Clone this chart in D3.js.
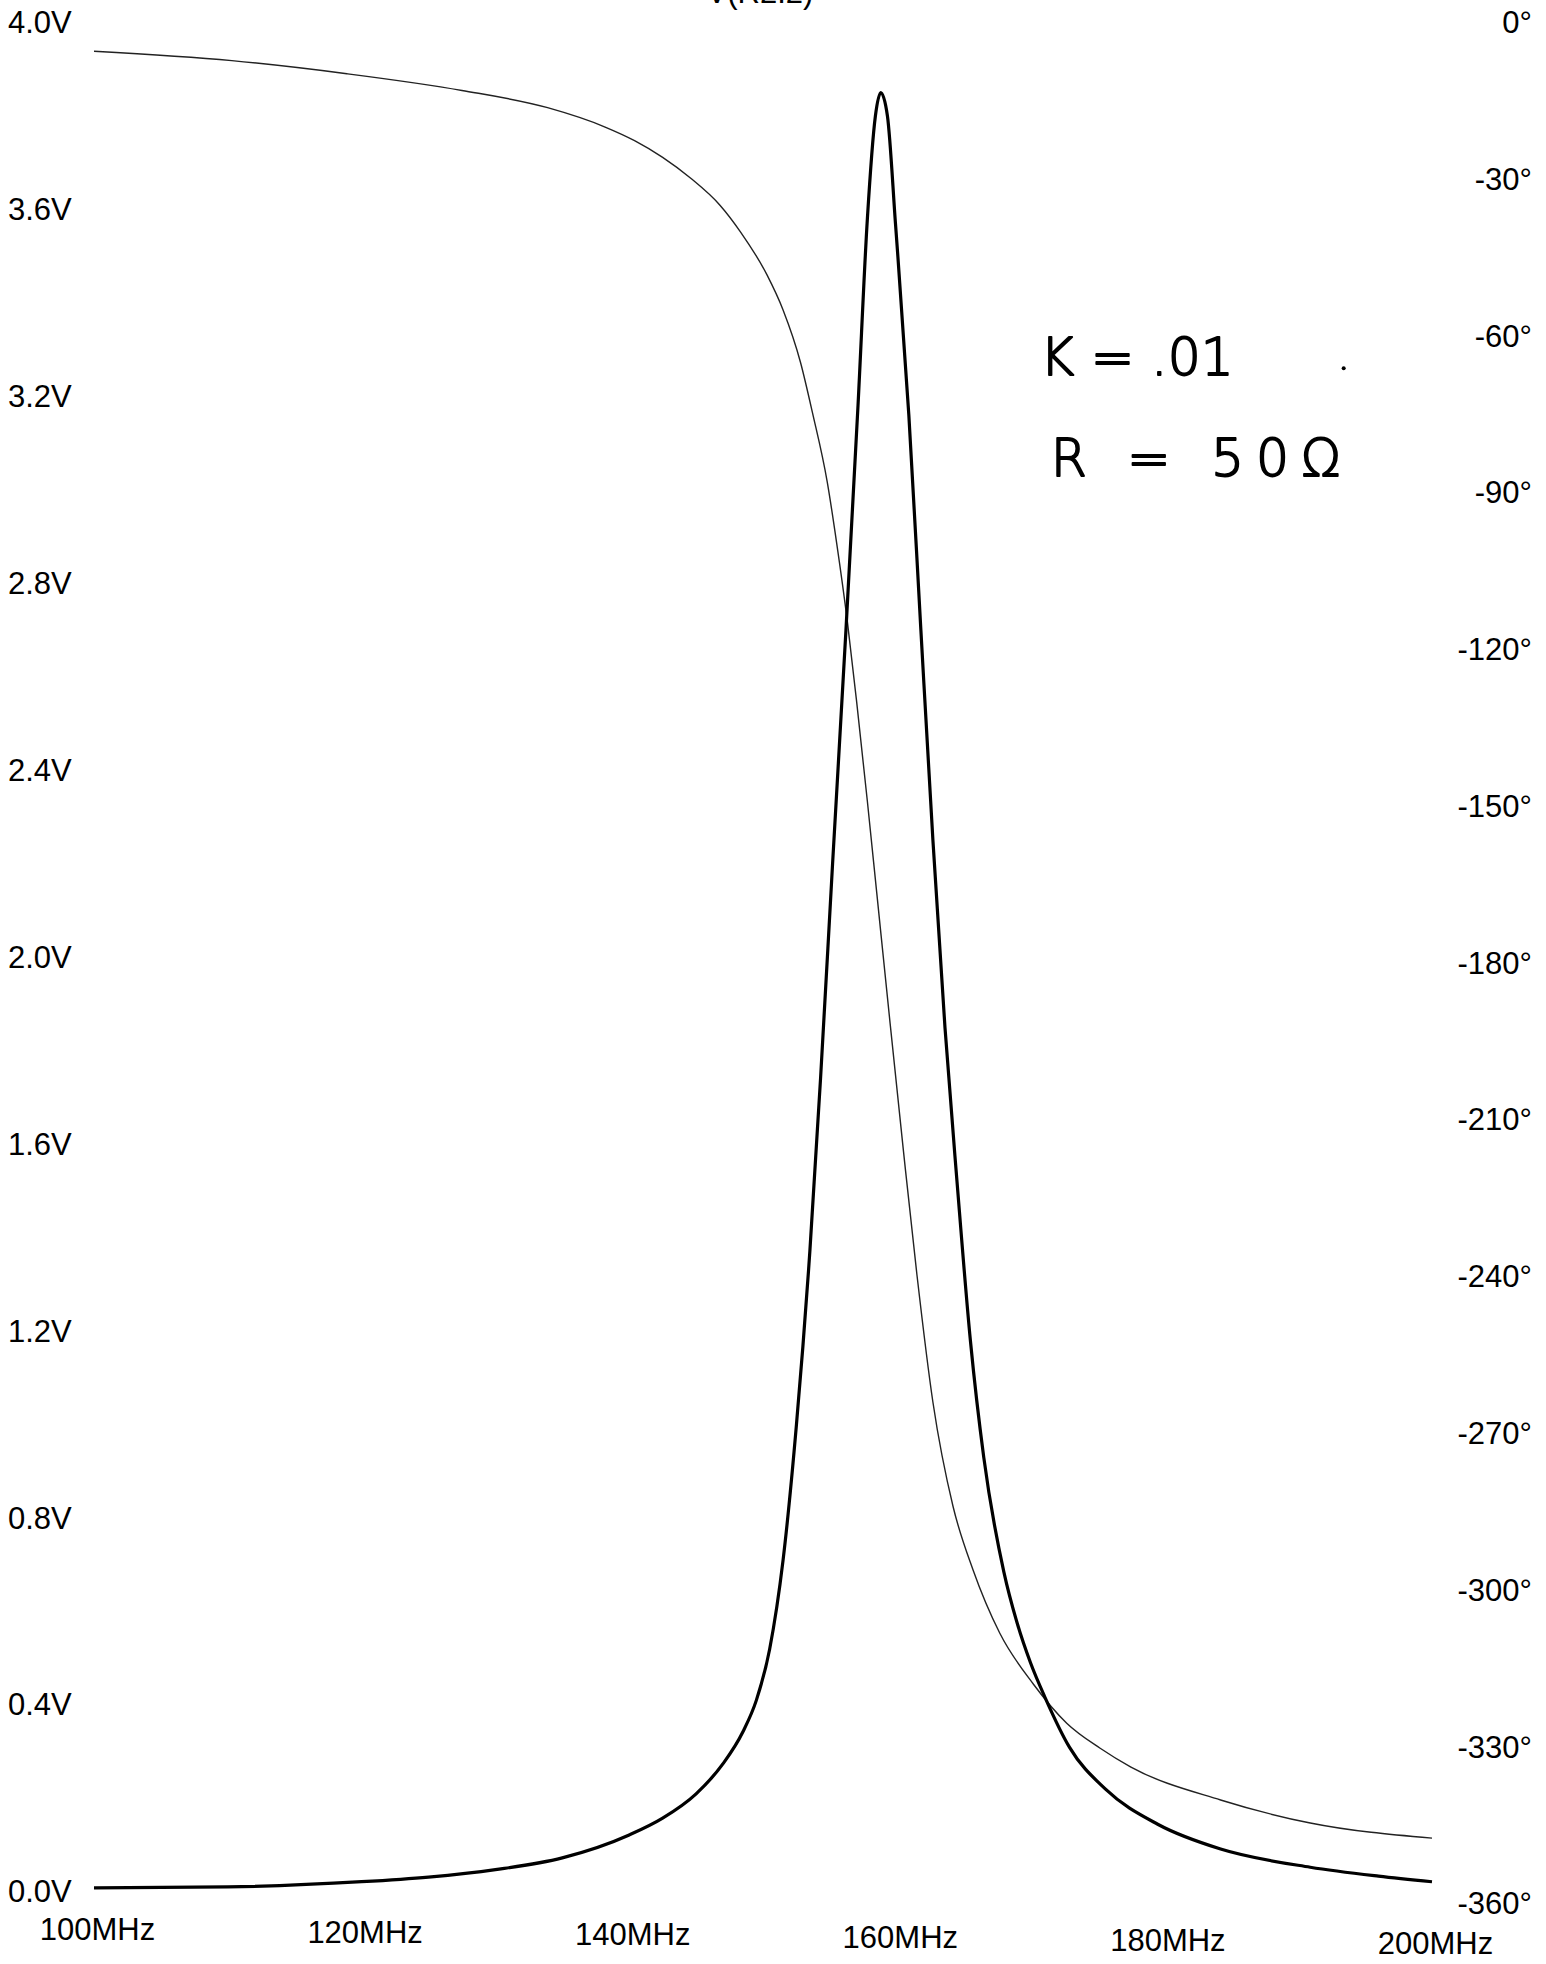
<!DOCTYPE html>
<html lang="en">
<head>
    <meta charset="UTF-8">
    <title>V(R2:2) resonance</title>
    <script src="https://d3js.org/d3.v7.min.js"></script>
    <style>
        body { margin: 0; background: #fff; }
        svg { display: block; }
        text { font-family: "Liberation Sans", Arial, sans-serif; fill: #000; }
    </style>
</head>
<body>
    <script>
        // tick labels
        const freqTicks = [100, 120, 140, 160, 180, 200];
        const voltTicks = [0, 0.4, 0.8, 1.2, 1.6, 2.0, 2.4, 2.8, 3.2, 3.6, 4.0];
        const phaseTicks = [0, -30, -60, -90, -120, -150, -180, -210, -240, -270, -300, -330, -360];

        // magnitude (MHz, V)
        const magFreq = [100, 110, 120, 125, 130, 135, 140, 142.5, 145, 147, 148.5, 149.5, 150.5,
            151.5, 152.5, 153.5, 154.3, 155.2, 156.2, 157.1, 157.8, 158.4, 158.8,
            159.3, 159.9, 160.9, 161.8, 162.7, 163.6, 164.5, 165.5, 166.5, 168.0, 169.0, 170.0, 171.1,
            172.9, 175.6, 179.5, 184.2, 190.9, 196, 200];
        const magVolt = [0.009, 0.011, 0.022, 0.032, 0.048, 0.073, 0.122, 0.158, 0.210, 0.274, 0.343, 0.41, 0.52,
            0.71, 1.00, 1.37, 1.74, 2.20, 2.70, 3.18, 3.58, 3.80, 3.85,
            3.80, 3.57, 3.16, 2.70, 2.25, 1.85, 1.52, 1.18, 0.93, 0.685, 0.575, 0.49, 0.415,
            0.31, 0.22, 0.145, 0.092, 0.053, 0.034, 0.022];

        // phase (MHz, degrees)
        const phaseFreq = [100, 110.3, 118.9, 127.5, 133.9, 138.2, 140.4, 142.5, 144.6, 146.8, 148.3,
            150.3, 151.5, 152.8, 153.7, 154.8, 155.5, 156.3, 157.0, 157.8, 158.5, 159.5, 160.5, 161.5,
            162.7, 164.2, 165.7, 167.7, 170.2, 172.7, 175.2, 177.5, 184.2, 190.9, 200];
        const phaseDeg = [-5.5, -7.3, -9.8, -13.0, -16.3, -20.0, -22.6, -25.8, -29.8, -35.0, -40.0,
            -48.3, -55.0, -65.0, -74.7, -87.9, -99.5, -114.5, -130.0, -149.0, -166.5, -191.5, -216.0, -239.5,
            -264.0, -283.9, -296.1, -308.2, -317.9, -325.4, -330.2, -333.8, -340.1, -344.5, -347.4];

        // handwritten notes
        const noteText = ["K = .01", "R = 50Ω"];
        const noteFreq = [170.7, 171.5];
        const noteVolt = [3.245, 3.03];

        const w = 1546;
        const h = 1964;

        const svg = d3.select("body")
            .append("svg")
            .attr("width", w)
            .attr("height", h);

        const x = d3.scaleLinear().domain([100, 200]).range([94, 1432]);
        const yV = d3.scaleLinear().domain([0, 4]).range([1892, 22.5]);
        const yP = d3.scaleLinear().domain([-360, 0]).range([1904, 22.5]);

        // left axis
        const left = svg.append("g")
            .attr("transform", "translate(8,0)")
            .call(d3.axisLeft(yV).tickValues(voltTicks).tickSize(0).tickFormat(d => d3.format(".1f")(d) + "V"));
        left.select(".domain").remove();
        left.selectAll("text")
            .attr("x", 0)
            .attr("text-anchor", "start")
            .style("font-size", "31px");

        // right axis
        const right = svg.append("g")
            .attr("transform", "translate(1532,0)")
            .call(d3.axisRight(yP).tickValues(phaseTicks).tickSize(0).tickFormat(d => d + "°"));
        right.select(".domain").remove();
        right.selectAll("text")
            .attr("x", 0)
            .attr("text-anchor", "end")
            .style("font-size", "31px");

        // bottom axis
        const bottom = svg.append("g")
            .attr("transform", "translate(3,1929)")
            .call(d3.axisBottom(x).tickValues(freqTicks).tickSize(0).tickFormat(d => d + "MHz"));
        bottom.select(".domain").remove();
        bottom.selectAll("text")
            .attr("y", (d, i) => i * 2.8)
            .attr("dy", "0.35em")
            .style("font-size", "31px");

        // title, cut off at the top edge as on the scan
        svg.append("text")
            .attr("x", 760)
            .attr("y", 3)
            .attr("text-anchor", "middle")
            .style("font-size", "31px")
            .text("V(R2:2)");

        const magData = magFreq.map((f, i) => ({ f: f, v: magVolt[i] }));
        const phaseData = phaseFreq.map((f, i) => ({ f: f, p: phaseDeg[i] }));

        svg.append("path")
            .datum(phaseData)
            .attr("fill", "none")
            .attr("stroke", "#222")
            .attr("stroke-width", 1.4)
            .attr("d", d3.line().curve(d3.curveMonotoneX).x(d => x(d.f)).y(d => yP(d.p)));

        svg.append("path")
            .datum(magData)
            .attr("fill", "none")
            .attr("stroke", "#000")
            .attr("stroke-width", 3.2)
            .attr("stroke-linejoin", "round")
            .attr("d", d3.line().curve(d3.curveMonotoneX).x(d => x(d.f)).y(d => yV(d.v)));

        // notes
        svg.selectAll(".note")
            .data(noteText)
            .enter()
            .append("text")
            .attr("class", "note")
            .attr("x", (d, i) => x(noteFreq[i]))
            .attr("y", (d, i) => yV(noteVolt[i]))
            .attr("textLength", (d, i) => i === 0 ? 194 : 290)
            .attr("lengthAdjust", "spacing")
            .style("font-family", "'DejaVu Sans', sans-serif")
            .style("font-weight", 200)
            .style("font-size", "52px")
            .style("stroke", "#000")
            .style("stroke-width", 1.8)
            .style("stroke-linejoin", "round")
            .text(d => d);

        svg.append("circle")
            .attr("cx", x(193.4))
            .attr("cy", yV(3.26))
            .attr("r", 2)
            .attr("fill", "#000");
    </script>
</body>
</html>
